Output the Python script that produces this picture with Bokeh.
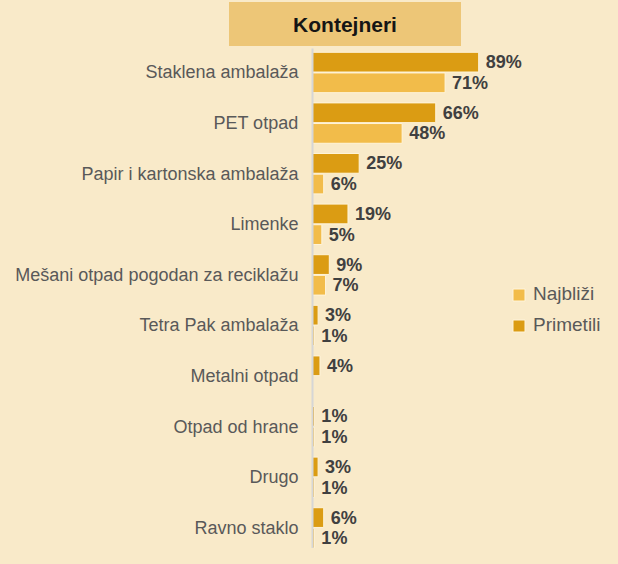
from bokeh.plotting import figure
from bokeh.models import (ColumnDataSource, Range1d, FixedTicker, Legend, LegendItem, Div)
from bokeh.layouts import column
from bokeh.transform import dodge
from bokeh.core.properties import value
from bokeh.embed import file_html
from bokeh.resources import INLINE
import numpy as np

title_text = "Kontejneri"
categories = ["Staklena ambalaža", "PET otpad", "Papir i kartonska ambalaža", "Limenke",
              "Mešani otpad pogodan za reciklažu", "Tetra Pak ambalaža", "Metalni otpad",
              "Otpad od hrane", "Drugo", "Ravno staklo"]
primetili = [89, 66, 25, 19, 9, 3, 4, 1, 3, 6]
najblizi = [71, 48, 6, 5, 7, 1, None, 1, 1, 1]
series_names = ["Najbliži", "Primetili"]

BG = "#F9EAC9"
DARK = "#DB9C13"
LIGHT = "#F2BC4A"
FONT = "Liberation Sans"

idx = np.arange(len(categories))

def make_source(vals):
    pos = [i for i, v in enumerate(vals) if v is not None]
    return ColumnDataSource(dict(
        y=[float(i) for i in pos],
        v=[vals[i] for i in pos],
        lab=[f"{vals[i]}%" for i in pos],
    ))

src_p = make_source(primetili)
src_n = make_source(najblizi)

# ---- title strip ----
title_div = Div(
    text=('<div style="margin-left:229px;margin-top:2px;width:232px;height:44px;'
          'background:#EDC677;display:flex;align-items:center;justify-content:center;'
          "font-family:'Liberation Sans';font-weight:bold;font-size:21px;color:#151515;"
          'padding-top:2px;box-sizing:border-box;">%s</div>' % title_text),
    width=602, height=48, margin=0,
    styles={"background-color": BG},
)

# ---- main chart ----
p = figure(width=602, height=500, output_backend="svg", toolbar_location=None,
           x_range=Range1d(0, 155.3), y_range=Range1d(9.407, -0.474),
           min_border_left=312, min_border_right=0, min_border_top=0, min_border_bottom=0,
           background_fill_color=BG, border_fill_color=BG, outline_line_color=None)

p.xaxis.visible = False
p.xgrid.visible = False
p.ygrid.visible = False

yax = p.yaxis[0]
yax.ticker = FixedTicker(ticks=[float(i) for i in idx])
yax.major_label_overrides = {float(i): c for i, c in zip(idx, categories)}
yax.major_tick_line_color = None
yax.minor_tick_line_color = None
yax.axis_line_color = "#D6D6D6"
yax.axis_line_width = 2
yax.major_label_standoff = 8
yax.major_label_text_font = FONT
yax.major_label_text_font_size = "18px"
yax.major_label_text_color = "#595959"

OFF = 0.204
r_p = p.hbar(y=dodge("y", -OFF, range=p.y_range), left=0, right="v", height=0.39,
             source=src_p, fill_color=DARK, line_color="#FFF4DA", line_width=1)
r_n = p.hbar(y=dodge("y", OFF, range=p.y_range), left=0, right="v", height=0.39,
             source=src_n, fill_color=LIGHT, line_color="#FFF4DA", line_width=1)

for src, off in ((src_p, -OFF), (src_n, OFF)):
    p.text(x="v", y=dodge("y", off, range=p.y_range), text="lab", source=src,
           x_offset=7, text_align="left", text_baseline="middle",
           text_font=value(FONT), text_font_style="bold", text_font_size="18px",
           text_color="#404040")

legend = Legend(items=[LegendItem(label=series_names[0], renderers=[r_n]),
                       LegendItem(label=series_names[1], renderers=[r_p])],
                location=(199, 211), orientation="vertical",
                background_fill_alpha=0, border_line_alpha=0,
                glyph_width=15, glyph_height=15, label_standoff=7, spacing=7,
                label_height=24, padding=0, margin=0,
                label_text_font=FONT, label_text_font_size="19px", label_text_color="#595959")
p.add_layout(legend)

layout = column(title_div, p, spacing=0)
layout.styles = {"background-color": BG}

html = file_html(layout, INLINE)
html = html.replace("<head>", "<head><style>body{background:%s;}</style>" % BG, 1)
open("out.html", "w").write(html)
